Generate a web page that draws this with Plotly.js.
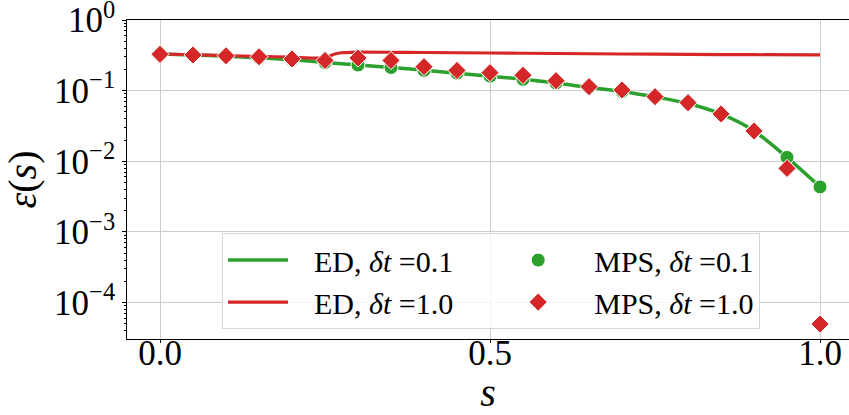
<!DOCTYPE html>
<html>
<head>
<meta charset="utf-8">
<script src="https://cdn.plot.ly/plotly-3.0.1.min.js"></script>
<style>
  html, body { margin: 0; padding: 0; background: #ffffff; }
  #chart { width: 849px; height: 415px; }
</style>
</head>
<body>
<div id="chart"></div>
<script>
// ---- data ----
const sGrid = [0, 0.05, 0.1, 0.15, 0.2, 0.25, 0.3, 0.35, 0.4, 0.45, 0.5,
               0.55, 0.6, 0.65, 0.7, 0.75, 0.8, 0.85, 0.9, 0.95, 1.0];

const edDt01 = [0.330, 0.320, 0.3066, 0.292, 0.2735, 0.2505, 0.2309, 0.2129, 0.1943, 0.1768, 0.1603,
                0.1449, 0.1285, 0.111, 0.0974, 0.0815, 0.0659, 0.0468, 0.0269, 0.01135, 0.00434];

const sEdDt10 = [0, 0.05, 0.1, 0.15, 0.2, 0.24, 0.255, 0.265, 0.275, 0.29, 0.35, 0.4, 0.5, 0.6, 0.7, 0.8, 0.9, 1.0];
const edDt10 = [0.330, 0.322, 0.3137, 0.3056, 0.2977, 0.2882, 0.3045, 0.330, 0.3436, 0.3492, 0.3492, 0.347,
                0.3413, 0.3358, 0.3304, 0.3261, 0.3229, 0.3199];

const mpsDt01 = [0.330, 0.320, 0.3066, 0.292, 0.2735, 0.2505, 0.2309, 0.2129, 0.1943, 0.1768, 0.1603,
                 0.1449, 0.1285, 0.111, 0.0974, 0.0815, 0.0659, 0.0468, 0.0269, 0.01135, 0.00434];

const mpsDt10 = [0.327, 0.320, 0.3117, 0.3017, 0.2808, 0.2675, 0.2901, 0.2675, 0.2185, 0.1931, 0.1797,
                 0.1651, 0.1385, 0.1139, 0.1023, 0.0823, 0.0676, 0.0468, 0.0269, 0.00794, 0.0000497];

const seriesNames = ['ED, <i>δt</i> =0.1', 'ED, <i>δt</i> =1.0', 'MPS, <i>δt</i> =0.1', 'MPS, <i>δt</i> =1.0'];

const xTickVals = [0, 0.5, 1.0];
const xTickText = ['0.0', '0.5', '1.0'];
const yTickVals = [1e-4, 1e-3, 1e-2, 1e-1, 1];
const yTickText = ['10<sup>−4</sup>', '10<sup>−3</sup>', '10<sup>−2</sup>', '10<sup>−1</sup>', '10<sup>0</sup>'];

// ---- styling ----
const GREEN = '#2ca02c';
const RED = '#d62728';
const FONT = 'Liberation Serif, DejaVu Serif, serif';
// spacing used only to lay the legend out in matplotlib-like columns
const LEAD = '\u2002\u2009';
const TRAIL_COL1 = '\u2002\u2002\u2002';

const minorVals = [];
for (let k = -5; k <= 0; k++) {
  for (let m = 2; m <= 9; m++) minorVals.push(m * Math.pow(10, k));
}

const traces = [
  { x: sGrid, y: edDt01, name: LEAD + seriesNames[0] + TRAIL_COL1, type: 'scatter', mode: 'lines',
    line: { color: GREEN, width: 3.5, shape: 'spline', smoothing: 0.8 }, legendrank: 1 },
  { x: sEdDt10, y: edDt10, name: LEAD + seriesNames[1] + TRAIL_COL1, type: 'scatter', mode: 'lines',
    line: { color: RED, width: 3.2, shape: 'spline', smoothing: 0.6 }, legendrank: 3 },
  { x: sGrid, y: mpsDt01, name: LEAD + seriesNames[2], type: 'scatter', mode: 'markers',
    marker: { color: GREEN, size: 14, symbol: 'circle', line: { color: '#ffffff', width: 1 } }, legendrank: 2 },
  { x: sGrid, y: mpsDt10, name: LEAD + seriesNames[3], type: 'scatter', mode: 'markers',
    marker: { color: RED, size: 14, symbol: 'diamond', line: { color: '#ffffff', width: 1 } }, legendrank: 4 }
];

const layout = {
  width: 849, height: 415,
  margin: { l: 127, r: 0, t: 20, b: 76 },
  paper_bgcolor: '#ffffff', plot_bgcolor: '#ffffff',
  font: { family: FONT, color: '#000000' },
  showlegend: true,
  legend: {
    orientation: 'h', x: 0.1316, y: 0.332, xanchor: 'left', yanchor: 'top',
    bgcolor: 'rgba(255,255,255,0.8)', bordercolor: '#d6d6d6', borderwidth: 1,
    font: { family: FONT, size: 30, color: '#000000' },
    itemwidth: 60, traceorder: 'normal'
  },
  xaxis: {
    type: 'linear', range: [-0.05, 1.0439],
    tickmode: 'array', tickvals: xTickVals, ticktext: xTickText,
    tickfont: { family: FONT, size: 35, color: '#000000' },
    ticks: 'outside', ticklen: 3, tickcolor: '#000000',
    ticklabelstandoff: -20, ticklabeloverflow: 'allow',
    showgrid: true, gridcolor: '#cccccc', gridwidth: 1,
    showline: true, linecolor: '#000000', linewidth: 1.3, mirror: true,
    zeroline: false,
    title: { text: '<i>s</i>', font: { family: FONT, size: 40, color: '#000000' }, standoff: 2 }
  },
  yaxis: {
    type: 'log', range: [-4.515, 0],
    tickmode: 'array', tickvals: yTickVals, ticktext: yTickText,
    tickfont: { family: FONT, size: 35, color: '#000000' },
    ticks: 'outside', ticklen: 3.5, tickcolor: '#000000',
    ticklabeloverflow: 'allow',
    minor: { tickmode: 'array', tickvals: minorVals, ticks: 'outside', ticklen: 2, tickcolor: '#000000', showgrid: false },
    showgrid: true, gridcolor: '#cccccc', gridwidth: 1,
    showline: true, linecolor: '#000000', linewidth: 1.3, mirror: false,
    zeroline: false,
    title: { text: '<i>ε</i>(<i>s</i>)', font: { family: FONT, size: 40, color: '#000000' }, standoff: 6 }
  }
};

Plotly.newPlot('chart', traces, layout, { displayModeBar: false, staticPlot: true });
</script>
</body>
</html>
